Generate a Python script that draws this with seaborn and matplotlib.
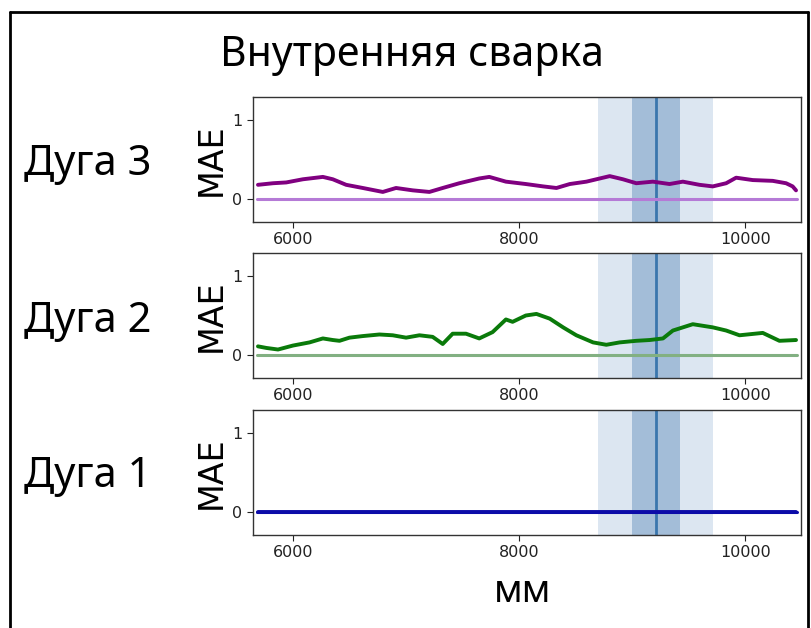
import matplotlib
matplotlib.use("Agg")
import matplotlib.pyplot as plt
import seaborn as sns
import pandas as pd
from matplotlib.lines import Line2D

# ---- data ----
mm_arc3 = [5691, 5824, 5941, 6088, 6265, 6353, 6471, 6618, 6795, 6912, 7060, 7207,
           7325, 7472, 7648, 7737, 7884, 8060, 8213, 8331, 8449, 8596, 8802, 8919,
           9037, 9184, 9331, 9449, 9596, 9714, 9832, 9920, 10067, 10244, 10362,
           10420, 10450]
mae_arc3 = [0.18, 0.20, 0.21, 0.25, 0.28, 0.25, 0.18, 0.14, 0.09, 0.14, 0.11, 0.09,
            0.14, 0.20, 0.26, 0.28, 0.22, 0.19, 0.16, 0.14, 0.19, 0.22, 0.29, 0.25,
            0.20, 0.22, 0.19, 0.22, 0.18, 0.16, 0.20, 0.27, 0.24, 0.23, 0.20,
            0.16, 0.11]

mm_arc2 = [5691, 5765, 5868, 6000, 6147, 6265, 6353, 6412, 6500, 6618, 6765, 6883,
           7001, 7119, 7236, 7325, 7413, 7531, 7648, 7766, 7884, 7943, 8060, 8154,
           8272, 8390, 8507, 8655, 8772, 8890, 9037, 9155, 9273, 9361, 9537, 9714,
           9832, 9950, 10156, 10303, 10450]
mae_arc2 = [0.11, 0.09, 0.07, 0.12, 0.16, 0.21, 0.19, 0.18, 0.22, 0.24, 0.26, 0.25,
            0.22, 0.25, 0.23, 0.14, 0.27, 0.27, 0.21, 0.29, 0.45, 0.42, 0.50, 0.52,
            0.46, 0.35, 0.25, 0.16, 0.13, 0.16, 0.18, 0.19, 0.21, 0.31, 0.39, 0.35,
            0.31, 0.25, 0.28, 0.18, 0.19]

mm_arc1 = [5691, 6500, 7500, 8500, 9500, 10450]
mae_arc1 = [0.005, 0.005, 0.005, 0.005, 0.005, 0.005]

arc_labels = ["Дуга 3", "Дуга 2", "Дуга 1"]
title_text = "Внутренняя сварка"
x_label = "мм"
y_label = "MAE"
x_ticks = [6000, 8000, 10000]
y_ticks = [0, 1]
center_mm = 9210
inner_span = (9000, 9420)
outer_span = (8700, 9720)

# ---- style ----
sns.set_style("ticks")
plt.rcParams['font.family'] = ['DejaVu Sans']
plt.rcParams['text.color'] = 'black'
plt.rcParams['axes.labelcolor'] = 'black'
big_font = ['Noto Sans', 'DejaVu Sans']

fig = plt.figure(figsize=(8.11, 6.28), dpi=100)

left = 253 / 811
width = (801 - 253) / 811
ax_tops = [97, 253, 410]
ax_h = 125
label_y = [164, 321, 476]

series = [
    (mm_arc3, mae_arc3, '#800080', '#b57ad6'),
    (mm_arc2, mae_arc2, '#0a7a0a', '#82b082'),
    (mm_arc1, mae_arc1, '#0b0ba8', '#0b0ba8'),
]

for i, (xs, ys, col, zcol) in enumerate(series):
    top = ax_tops[i]
    ax = fig.add_axes([left, 1 - (top + ax_h) / 628, width, ax_h / 628])
    ax.axvspan(*outer_span, color='#dce6f1', lw=0, zorder=0)
    ax.axvspan(*inner_span, color='#a3bdd8', lw=0, zorder=0.5)
    ax.axvline(center_mm, color='#3a76ad', lw=2, zorder=1)
    ax.axhline(0, xmin=(5680 - 5647) / (10494 - 5647), xmax=(10462 - 5647) / (10494 - 5647),
               color=zcol, lw=2.2, zorder=2)
    df = pd.DataFrame({"mm": xs, "mae": ys})
    sns.lineplot(data=df, x="mm", y="mae", ax=ax, color=col, lw=2.8, zorder=3)
    ax.set_xlim(5647, 10494)
    ax.set_ylim(-0.29, 1.29)
    ax.set_xticks(x_ticks)
    ax.set_yticks(y_ticks)
    ax.tick_params(labelsize=11.5, length=4, colors='#222222')
    for s in ax.spines.values():
        s.set_color('#333333')
        s.set_linewidth(1.0)
    ax.set_xlabel("")
    ax.set_ylabel(y_label, fontsize=24, labelpad=3, color='black')
    fig.text(88 / 811, 1 - label_y[i] / 628, arc_labels[i], fontsize=30,
             family=big_font, ha='center', va='center', color='black')

fig.text(412 / 811, 1 - 55 / 628, title_text, fontsize=29.5, family=big_font,
         ha='center', va='center', color='black')
fig.text(523 / 811, 1 - 592 / 628, x_label, fontsize=27, family=big_font,
         ha='center', va='center', color='black')

# frame around the slide area
frame_kw = dict(color='black', lw=2, transform=fig.transFigure)
fig.add_artist(Line2D([10 / 811, 10 / 811], [0, 1 - 12 / 628], **frame_kw))
fig.add_artist(Line2D([10 / 811, 808 / 811], [1 - 12 / 628, 1 - 12 / 628], **frame_kw))
fig.add_artist(Line2D([808 / 811, 808 / 811], [0, 1 - 12 / 628], **frame_kw))

fig.savefig("out.png", dpi=100)
